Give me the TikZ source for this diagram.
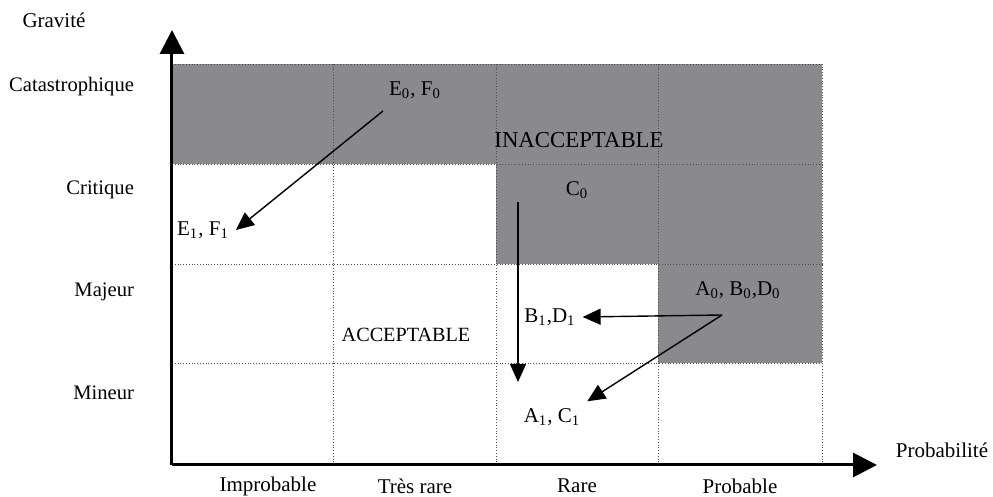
\documentclass[tikz,border=0pt]{standalone}
\usepackage{fontspec}
\setmainfont{Liberation Serif}
\usetikzlibrary{arrows.meta}
\definecolor{zone}{RGB}{138,138,140}

\begin{document}
\begin{tikzpicture}[x=0.5pt,y=0.5pt,
  font=\fontsize{10.5}{12}\selectfont,
  g/.style={densely dotted,line width=0.4pt,black!70},
  ax/.style={line width=1.5pt,-{Triangle[length=12pt,width=12pt]}},
  a/.style={line width=0.7pt,-{Triangle[length=9pt,width=8pt]}},
  lv/.style={anchor=east,font=\fontsize{10.3}{12}\selectfont}]
\useasboundingbox (-172,-32) rectangle (821,465);
% zones inacceptables
\fill[zone] (0,301) rectangle (650,401);
\fill[zone] (324,201) rectangle (650,301);
\fill[zone] (486,102) rectangle (650,201);
\foreach \x in {161,324,486,650} \draw[g] (\x,0) -- (\x,401);
\foreach \y in {102,201,301,401} \draw[g] (0,\y) -- (650,\y);
% axes
\coordinate (o) at (0,0);
\coordinate (ytop) at (0,435);
\coordinate (xend) at (705,0);
\draw[ax] (o) -- (ytop);
\draw[ax] (o) -- (xend);
\node (grav) at (-118,445) {Gravité};
\node (prob) at (770,15) {Probabilité};
\node[lv] (cat) at (-31,378) {Catastrophique};
\node[lv] (crit) at (-31,275) {Critique};
\node[lv] (maj) at (-31,173) {Majeur};
\node[lv] (min) at (-31,72) {Mineur};
\node (impr) at (96,-21) {Improbable};
\node (trare) at (243,-21) {Très rare};
\node (rare) at (405,-21) {Rare};
\node (pbl) at (568,-21) {Probable};
% zones et scenarios
\node[font=\fontsize{11.4}{13}\selectfont] (inac) at (407,325) {INACCEPTABLE};
\node[font=\fontsize{10.1}{12}\selectfont] (acc) at (234,130) {ACCEPTABLE};
\node (e0) at (243,375) {E\textsubscript{0}, F\textsubscript{0}};
\node (e1) at (31,235) {E\textsubscript{1}, F\textsubscript{1}};
\node (c0) at (405,275) {C\textsubscript{0}};
\node (a0) at (566,175) {A\textsubscript{0}, B\textsubscript{0},D\textsubscript{0}};
\node (b1) at (378,148) {B\textsubscript{1},D\textsubscript{1}};
\node (a1) at (380,48) {A\textsubscript{1}, C\textsubscript{1}};
\coordinate (e0t) at (211,354);
\coordinate (c0t) at (346,263);
\coordinate (c1h) at (346,83);
\coordinate (a0t) at (550,150);
\draw[a] (e0t) -- (e1.east);
\draw[a] (c0t) -- (c1h);
\draw[a] (a0t) -- (b1.east);
\draw[a] (a0t) -- (a1.north east);
\end{tikzpicture}
\end{document}
